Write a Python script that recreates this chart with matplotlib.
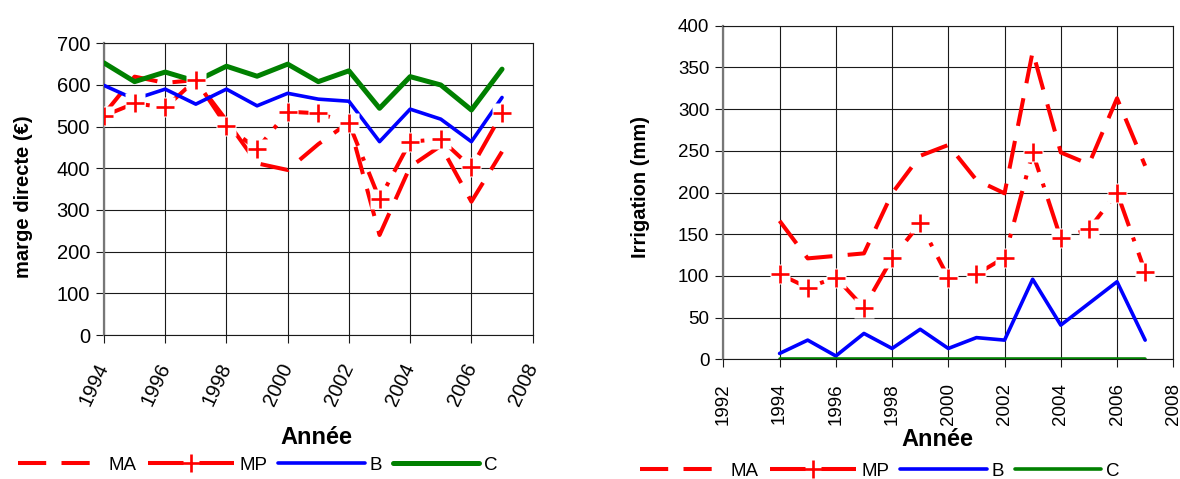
import matplotlib
matplotlib.use("Agg")
import matplotlib.pyplot as plt
from matplotlib.lines import Line2D
from matplotlib.legend_handler import HandlerTuple

plt.rcParams['font.family'] = ['Liberation Sans', 'DejaVu Sans']

years = [1994, 1995, 1996, 1997, 1998, 1999, 2000, 2001, 2002, 2003, 2004, 2005, 2006, 2007]

# Left chart: marge directe (€)
ma_left = [530, 620, 605, 612, 515, 412, 396, 458, 510, 240, 404, 454, 320, 440]
mp_left = [526, 556, 546, 612, 502, 446, 536, 532, 508, 326, 464, 470, 402, 532]
b_left = [599, 566, 590, 554, 590, 550, 580, 566, 561, 464, 542, 518, 464, 570]
c_left = [653, 608, 631, 609, 645, 621, 650, 608, 634, 544, 620, 600, 540, 638]

# Right chart: Irrigation (mm)
ma_right = [166, 121, 124, 127, 199, 244, 257, 215, 199, 369, 248, 234, 313, 232]
mp_right = [102, 86, 98, 62, 121, 163, 98, 102, 122, 248, 145, 156, 200, 105]
b_right = [7, 23, 4, 31, 13, 36, 13, 26, 23, 96, 41, 67, 93, 23]
c_right = [0, 0, 0, 0, 0, 0, 0, 0, 0, 0, 0, 0, 0, 0]

series_names = ['MA', 'MP', 'B', 'C']
left_xticks = [1994, 1996, 1998, 2000, 2002, 2004, 2006, 2008]
left_yticks = [0, 100, 200, 300, 400, 500, 600, 700]
right_xticks = [1992, 1994, 1996, 1998, 2000, 2002, 2004, 2006, 2008]
right_yticks = [0, 50, 100, 150, 200, 250, 300, 350, 400]

RED = '#FF0000'
BLUE = '#0000FF'
GREEN = '#008000'
GRID = '#1a1a1a'

MA_DASH = (0, (7, 3.8))
MP_DASH = (0, (8, 3, 1, 3))
RED_LW = 2.9
BLUE_LW = 2.6

fig = plt.figure(figsize=(11.8, 4.79), dpi=100)
axL = fig.add_axes([0.0881, 0.3006, 0.4514 - 0.0881, 0.9096 - 0.3006])
axR = fig.add_axes([0.6130, 0.2499, 0.9943 - 0.6130, 0.9463 - 0.2499])


def draw(ax, ma, mp, b, c, c_lw):
    ax.plot(years, ma, color=RED, lw=RED_LW, linestyle=MA_DASH, zorder=3)
    ax.plot(years, mp, color=RED, lw=RED_LW, linestyle=MP_DASH, zorder=3)
    ax.plot(years, b, color=BLUE, lw=BLUE_LW, zorder=3, solid_capstyle='round',
            solid_joinstyle='round')
    ax.plot(years, c, color=GREEN, lw=c_lw, zorder=3, solid_capstyle='round',
            solid_joinstyle='round')
    ax.plot(years, mp, linestyle='none', marker='s', markersize=14,
            markerfacecolor='white', markeredgecolor='none', zorder=4)
    ax.plot(years, mp, linestyle='none', marker='+', markersize=13,
            markeredgewidth=1.9, color=RED, zorder=5)


def style(ax, xticks, yticks, xlim, ylim, fs_y, fs_x, rot, xpad):
    ax.set_xlim(*xlim)
    ax.set_ylim(*ylim)
    ax.set_xticks(xticks)
    ax.set_yticks(yticks)
    ax.grid(True, color=GRID, lw=0.8, zorder=1)
    ax.set_axisbelow(True)
    for s in ax.spines.values():
        s.set_color(GRID)
        s.set_linewidth(0.8)
    ax.spines['left'].set_color('#777777')
    ax.spines['left'].set_linewidth(1.6)
    ax.tick_params(axis='both', direction='out', length=6, width=0.8, color=GRID)
    ax.tick_params(axis='y', labelsize=fs_y, pad=4)
    ax.tick_params(axis='x', labelsize=fs_x, pad=xpad)
    ax.set_yticklabels([str(v) for v in yticks])
    if rot == 90:
        ax.set_xticklabels([str(v) for v in xticks], rotation=90, ha='center', va='top')
    else:
        ax.set_xticklabels([str(v) for v in xticks], rotation=rot, ha='right',
                           va='center', rotation_mode='anchor')


draw(axL, ma_left, mp_left, b_left, c_left, 3.6)
draw(axR, ma_right, mp_right, b_right, c_right, 2.6)
style(axL, left_xticks, left_yticks, (1994, 2008), (0, 700), 14.5, 14.5, 65, 15)
style(axR, right_xticks, right_yticks, (1992, 2008), (0, 400), 13.5, 13.5, 90, 11)

fig.text(0.020, 1 - 197 / 479, 'marge directe (€)', rotation=90, ha='center', va='center',
         fontsize=14.5, fontweight='bold')
fig.text(0.543, 1 - 187 / 479, 'Irrigation (mm)', rotation=90, ha='center', va='center',
         fontsize=14.5, fontweight='bold')
fig.text(316 / 1180, 1 - 437 / 479, 'Année', ha='center', va='center',
         fontsize=17, fontweight='bold')
fig.text(937 / 1180, 1 - 439 / 479, 'Année', ha='center', va='center',
         fontsize=17, fontweight='bold')


def make_handles(c_lw):
    h_ma = Line2D([], [], color=RED, lw=RED_LW, linestyle=MA_DASH)
    h_mp = (Line2D([], [], color=RED, lw=RED_LW, solid_capstyle='butt'),
            Line2D([], [], linestyle='none', marker='s', markersize=12,
                   markerfacecolor='white', markeredgecolor='none'),
            Line2D([], [], linestyle='none', marker='+', markersize=13,
                   markeredgewidth=1.9, color=RED))
    h_b = Line2D([], [], color=BLUE, lw=BLUE_LW, solid_capstyle='round')
    h_c = Line2D([], [], color=GREEN, lw=c_lw, solid_capstyle='round')
    return [h_ma, h_mp, h_b, h_c]


for hx, hy, clw in [(18 / 1180, 1 - 465 / 479, 3.6), (640 / 1180, 1 - 471 / 479, 2.6)]:
    fig.legend(make_handles(clw), series_names, loc='center left',
               bbox_to_anchor=(hx, hy), ncol=4, frameon=False,
               handlelength=4.6, handletextpad=0.25, columnspacing=0.6,
               borderaxespad=0, borderpad=0, fontsize=13.5,
               handler_map={tuple: HandlerTuple(ndivide=1, pad=0)})

fig.savefig('out.png', dpi=100, facecolor='white')
